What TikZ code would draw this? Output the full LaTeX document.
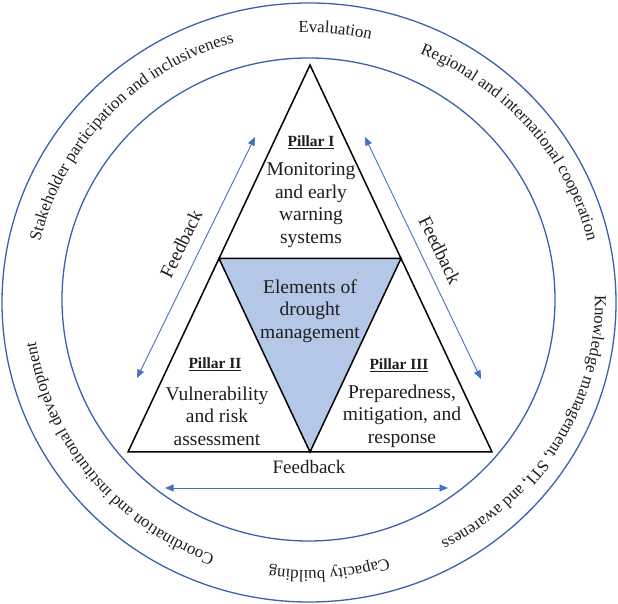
\documentclass[tikz,border=0pt]{standalone}
\usepackage{fontspec}
\setmainfont{Liberation Serif}
\usetikzlibrary{decorations.text,arrows.meta}
\definecolor{ringblue}{RGB}{58,98,172}
\definecolor{arrblue}{RGB}{68,114,196}
\definecolor{fillblue}{RGB}{180,199,231}
\definecolor{txt}{RGB}{30,30,30}
\newcommand\ringfont{\fontsize{16.8}{19}\selectfont}
\newcommand\ringtxt[5]{%
  \pgfmathsetmacro\rtsa{#1+#2}\pgfmathsetmacro\rtea{#1-#2}%
  \path[decorate,decoration={text along path,text={|\ringfont|#5},text align=center,text color=txt}]
    (oc) ++({#3*cos(\rtsa)},{#4*sin(\rtsa)}) arc[start angle=\rtsa,end angle=\rtea,x radius=#3,y radius=#4];
}
\begin{document}
\begin{tikzpicture}[x=1pt,y=1pt,
  ring/.style={draw=ringblue,line width=1.3pt},
  tri/.style={draw=black,line width=1.5pt,line join=miter},
  fb/.style={draw=arrblue,line width=0.9pt,{Triangle[length=8.5pt,width=7pt]}-{Triangle[length=8.5pt,width=7pt]}},
  body/.style={font=\fontsize{19.5}{22.5}\selectfont,align=center,text=txt,inner sep=0pt},
  pil/.style={font=\fontsize{15.5}{18}\selectfont\bfseries,text=txt,inner sep=0pt},
  fbt/.style={font=\fontsize{19}{22}\selectfont,text=txt,inner sep=0pt},
]
\useasboundingbox (0,0) rectangle (618,604);
\coordinate (oc) at (309,301.5);
\coordinate (ic) at (308.5,304.5);
\draw[ring] (oc) ellipse[x radius=307,y radius=299.5];
\draw[ring] (ic) ellipse[x radius=246.5,y radius=241.5];

% triangle
\coordinate (A) at (310,539);
\coordinate (BL) at (128,152);
\coordinate (BR) at (492,152);
\coordinate (ML) at (219,345.5);
\coordinate (MR) at (401,345.5);
\coordinate (BM) at (310,152);
\fill[fillblue] (ML) -- (MR) -- (BM) -- cycle;
\draw[tri] (A) -- (BL) -- (BR) -- cycle;
\draw[tri] (ML) -- (MR) -- (BM) -- cycle;

% texts in triangle
\node[pil] (p1) at (311,462) {\underline{Pillar I}};
\node[body] (t1) at (311,399) {Monitoring\\and early\\warning\\systems};
\node[body] (t0) at (310,293) {Elements of\\drought\\management};
\node[pil] (p2) at (215,240) {\underline{Pillar II}};
\node[body] (t2) at (217,188) {Vulnerability\\and risk\\assessment};
\node[pil] (p3) at (399,239) {\underline{Pillar III}};
\node[body] (t3) at (402,188) {Preparedness,\\mitigation, and\\response};

% feedback arrows
\coordinate (l1) at (137,226); \coordinate (l2) at (255,467);
\coordinate (r1) at (365,467); \coordinate (r2) at (481,225);
\coordinate (b1) at (165,116); \coordinate (b2) at (448,116);
\draw[fb] (l1) -- (l2);
\draw[fb] (r1) -- (r2);
\draw[fb] (b1) -- (b2);
\node[fbt,rotate=64] (fbl) at (181,360) {Feedback};
\node[fbt,rotate=-64] (fbr) at (440,354) {Feedback};
\node[fbt] (fbb) at (309,137) {Feedback};

% ring texts
\ringtxt{84.5}{30}{270}{270}{Evaluation}
\ringtxt{136.5}{50}{276}{270}{Stakeholder participation and inclusiveness}
\ringtxt{39.5}{50}{286}{270}{Regional and international cooperation}
\ringtxt{-30}{50}{286}{269}{Knowledge management, STI, and awareness}
\ringtxt{-85.7}{30}{268}{268}{Capacity building}
\ringtxt{219}{50}{276}{269}{Coordination and institutional development}
\end{tikzpicture}
\end{document}
